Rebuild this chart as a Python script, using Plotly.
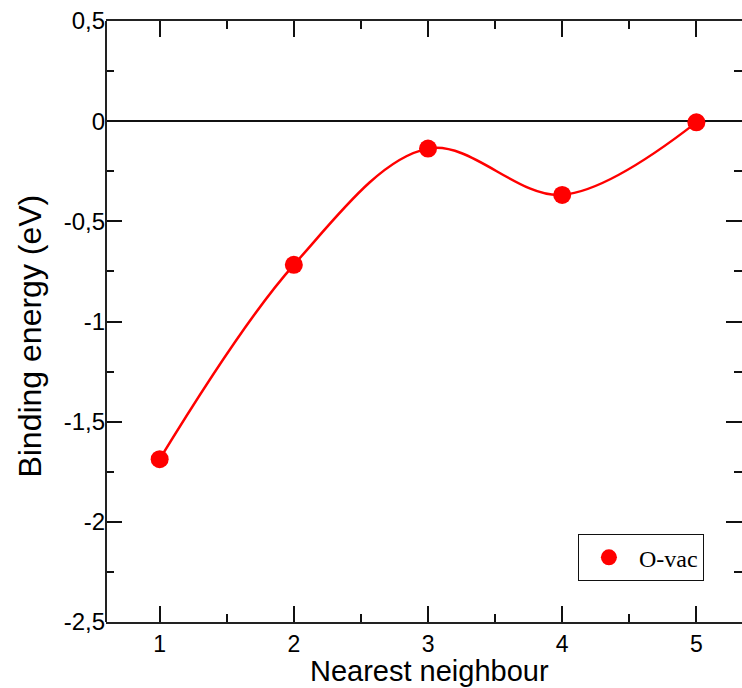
import plotly.graph_objects as go

# Binding energy of the O-vacancy pair versus neighbour shell
neighbour = [1, 2, 3, 4, 5]
binding_energy = [-1.687, -0.717, -0.137, -0.368, -0.006]
series_name = "O-vac"

y_tick_values = [0.5, 0, -0.5, -1, -1.5, -2, -2.5]
y_tick_labels = ["0,5", "0", "-0,5", "-1", "-1,5", "-2", "-2,5"]
x_tick_values = [1, 2, 3, 4, 5]
x_tick_labels = ["1", "2", "3", "4", "5"]

x_title = "Nearest neighbour"
y_title = "Binding energy (eV)"

RED = "#ff0000"
FONT = "Liberation Sans, Arial, Helvetica, sans-serif"

fig = go.Figure()

# smooth connecting curve
fig.add_trace(go.Scatter(
    x=neighbour, y=binding_energy, mode="lines",
    line=dict(color=RED, width=2.5, shape="spline", smoothing=1.0),
    showlegend=False, hoverinfo="skip",
))

# data points
fig.add_trace(go.Scatter(
    x=neighbour, y=binding_energy, mode="markers",
    marker=dict(color=RED, size=18, symbol="circle"),
    name=series_name,
))

axis_common = dict(
    ticks="inside", ticklen=16, tickwidth=1.5, tickcolor="#111",
    showgrid=False, mirror="allticks",
)

fig.update_xaxes(
    range=[0.6, 5.34],
    tickvals=x_tick_values, ticktext=x_tick_labels,
    tickfont=dict(family=FONT, size=23, color="#000"),
    showline=True, linecolor="#222", linewidth=2,
    zeroline=False,
    minor=dict(ticks="inside", ticklen=8, dtick=0.5, tick0=0.5, tickwidth=1.5, tickcolor="#111"),
    **axis_common,
)

fig.update_yaxes(
    range=[-2.5, 0.5],
    tickvals=y_tick_values, ticktext=y_tick_labels,
    tickfont=dict(family=FONT, size=24, color="#000"),
    showline=False,
    zeroline=True, zerolinecolor="#111", zerolinewidth=1.5,
    minor=dict(ticks="inside", ticklen=8, dtick=0.25, tick0=0.25, tickwidth=1.5, tickcolor="#111"),
    **axis_common,
)

# left frame edge
fig.add_shape(type="line", xref="paper", yref="paper", x0=0, x1=0, y0=0, y1=1,
              line=dict(color="#222", width=2))

# axis titles
fig.add_annotation(
    text=x_title, xref="paper", yref="paper", x=0.509, y=-0.081,
    xanchor="center", yanchor="middle", showarrow=False,
    font=dict(family=FONT, size=29, color="#000"),
)
fig.add_annotation(
    text=y_title, xref="paper", yref="paper", x=-0.12, y=0.476,
    xanchor="center", yanchor="middle", showarrow=False, textangle=-90,
    font=dict(family=FONT, size=32, color="#000"),
)

fig.update_layout(
    width=742, height=688,
    margin=dict(l=106, r=0, t=21, b=66),
    paper_bgcolor="white", plot_bgcolor="white",
    legend=dict(
        x=0.742, y=0.146, xanchor="left", yanchor="top",
        bordercolor="#111", borderwidth=1, bgcolor="white",
        font=dict(family="Liberation Serif, Times New Roman, serif", size=24, color="#000"),
        itemsizing="trace", itemwidth=50,
    ),
)

fig.write_html("out.html")
